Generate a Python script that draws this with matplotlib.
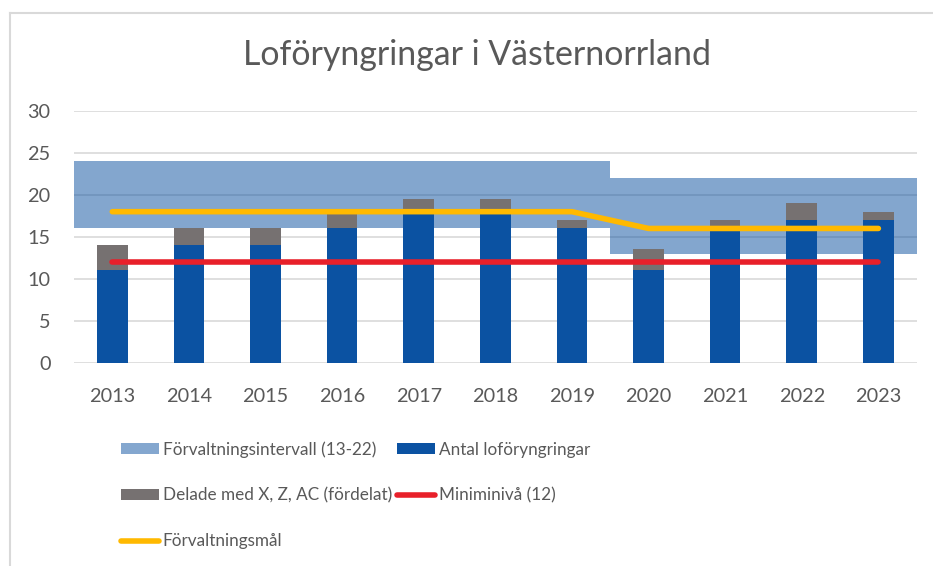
import matplotlib
matplotlib.use("Agg")
import matplotlib.pyplot as plt
from matplotlib.lines import Line2D
from matplotlib.patches import Patch
import numpy as np

plt.rcParams['font.family'] = ['Lato', 'DejaVu Sans']

years = ['2013', '2014', '2015', '2016', '2017', '2018', '2019', '2020', '2021', '2022', '2023']
antal = [11, 14, 14, 16, 18, 18, 16, 11, 16, 17, 17]
delade = [3, 2, 2, 2, 1.5, 1.5, 1, 2.5, 1, 2, 1]
interval_low = [16, 16, 16, 16, 16, 16, 16, 13, 13, 13, 13]
interval_high = [24, 24, 24, 24, 24, 24, 24, 22, 22, 22, 22]
minimi = [12] * 11
mal = [18, 18, 18, 18, 18, 18, 18, 16, 16, 16, 16]

TXT = '#595959'
C_BAND = '#094F9F'
C_BLUE = '#0B52A2'
C_GRAY = '#767171'
C_RED = '#E8202A'
C_YEL = '#FFB900'

fig = plt.figure(figsize=(9.33, 5.66), dpi=100)
ax = fig.add_axes([74/933, 1-362.7/566, (916.7-74)/933, (362.7-111)/566])

x = np.arange(len(years))
xe = np.append(x - 0.5, x[-1] + 0.5)
lo = np.append(interval_low, interval_low[-1])
hi = np.append(interval_high, interval_high[-1])
ax.fill_between(xe, lo, hi, step='post', color=C_BAND, alpha=0.5, lw=0, zorder=2)

ax.bar(x, antal, width=0.4, color=C_BLUE, zorder=3)
ax.bar(x, delade, width=0.4, bottom=antal, color=C_GRAY, zorder=3)
ax.plot(x, minimi, color=C_RED, lw=4, solid_capstyle='round', zorder=4)
ax.plot(x, mal, color=C_YEL, lw=4, solid_capstyle='round', solid_joinstyle='round', zorder=4)

ax.set_xlim(-0.5, len(years) - 0.5)
ax.set_ylim(0, 30)
ax.set_yticks(range(0, 31, 5))
ax.set_xticks(x)
ax.set_xticklabels(years)
ax.yaxis.grid(True, color='#D9D9D9', lw=1.2, zorder=1)
ax.set_axisbelow(True)
for s in ax.spines.values():
    s.set_visible(False)
ax.tick_params(axis='both', length=0, labelsize=14.3, colors=TXT)
ax.tick_params(axis='y', pad=17)
ax.tick_params(axis='x', pad=18.5)

fig.text(477/933, 1-55/566, 'Loföryngringar i Västernorrland', ha='center', va='center',
         fontsize=24.4, color=TXT)

h_int = Patch(facecolor='#84A7CF', edgecolor='none')
h_ant = Patch(facecolor=C_BLUE, edgecolor='none')
h_del = Patch(facecolor=C_GRAY, edgecolor='none')
h_min = Line2D([], [], color=C_RED, lw=4, solid_capstyle='round')
h_mal = Line2D([], [], color=C_YEL, lw=4, solid_capstyle='round')
handles = [h_int, h_del, h_mal, h_ant, h_min]
labels = ['Förvaltningsintervall (13-22)', 'Delade med X, Z, AC (fördelat)', 'Förvaltningsmål',
          'Antal loföryngringar', 'Miniminivå (12)']
leg = fig.legend(handles, labels, ncol=2, loc='upper left', bbox_to_anchor=(121/933, 1-441/566),
                 frameon=False, fontsize=12.3,
                 handlelength=2.2, handleheight=0.6,
                 handletextpad=0.25, columnspacing=0.3, labelspacing=1.75, borderpad=0,
                 borderaxespad=0)
for t in leg.get_texts():
    t.set_color(TXT)

fig.add_artist(Line2D([10/933, 1], [1-12.5/566, 1-12.5/566], color='#D9D9D9', lw=1.5))
fig.add_artist(Line2D([10/933, 10/933], [0, 1-12.5/566], color='#D9D9D9', lw=1.5))

fig.savefig('out.png', dpi=100)
